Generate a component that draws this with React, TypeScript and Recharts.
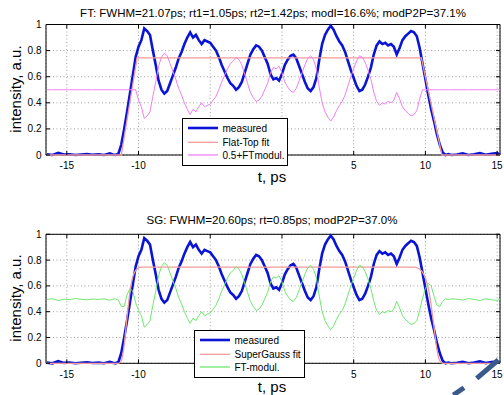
import { LineChart, Line, XAxis, YAxis, CartesianGrid, ReferenceArea } from "recharts";

// time grid, ps
const TIME = [
  -16.4, -16.0, -15.6, -15.2, -14.8, -14.4, -14.0, -13.6, -13.2, -12.8, -12.4, -12.0,
  -11.8, -11.6, -11.4, -11.2, -11.0, -10.8, -10.6, -10.4, -10.2, -10.0,
  -9.8, -9.6, -9.4, -9.2, -9.0, -8.8, -8.6, -8.4, -8.2, -8.0,
  -7.8, -7.6, -7.4, -7.2, -7.0, -6.8, -6.6, -6.4, -6.2, -6.0,
  -5.8, -5.6, -5.4, -5.2, -5.0, -4.8, -4.6, -4.4, -4.2, -4.0,
  -3.8, -3.6, -3.4, -3.2, -3.0, -2.8, -2.6, -2.4, -2.2, -2.0,
  -1.8, -1.6, -1.4, -1.2, -1.0, -0.8, -0.6, -0.4, -0.2, 0.0,
  0.2, 0.4, 0.6, 0.8, 1.0, 1.2, 1.4, 1.6, 1.8, 2.0,
  2.2, 2.4, 2.6, 2.8, 3.0, 3.2, 3.4, 3.6, 3.8, 4.0,
  4.2, 4.4, 4.6, 4.8, 5.0, 5.2, 5.4, 5.6, 5.8, 6.0,
  6.2, 6.4, 6.6, 6.8, 7.0, 7.2, 7.4, 7.6, 7.8, 8.0,
  8.2, 8.4, 8.6, 8.8, 9.0, 9.2, 9.4, 9.6, 9.8, 10.0,
  10.2, 10.4, 10.6, 10.8, 11.0, 11.2, 11.4, 11.6, 11.8,
  12.2, 12.6, 13.0, 13.4, 13.8, 14.2, 14.6, 15.0, 15.2,
];

const MEASURED = [
  0.005, 0.0, 0.016, 0.003, 0.006, 0.0, 0.004, 0.008, 0.002, 0.005, 0.0, 0.012,
  0.004, 0.0, 0.01, 0.08, 0.2, 0.33, 0.47, 0.61, 0.75, 0.83,
  0.88, 0.97, 0.95, 0.92, 0.8, 0.69, 0.57, 0.5, 0.47, 0.49,
  0.55, 0.61, 0.67, 0.74, 0.79, 0.85, 0.9, 0.94, 0.9, 0.92,
  0.88, 0.85, 0.88, 0.87, 0.86, 0.83, 0.8, 0.75, 0.69, 0.64,
  0.59, 0.55, 0.53, 0.5, 0.52, 0.56, 0.63, 0.7, 0.77, 0.81,
  0.84, 0.83, 0.8, 0.75, 0.7, 0.62, 0.58, 0.59, 0.57, 0.62,
  0.69, 0.73, 0.76, 0.77, 0.74, 0.68, 0.62, 0.56, 0.51, 0.49,
  0.52, 0.59, 0.73, 0.85, 0.92, 0.96, 0.99, 0.96, 0.91, 0.87,
  0.84, 0.79, 0.72, 0.65, 0.59, 0.53, 0.49, 0.5, 0.54, 0.6,
  0.67, 0.77, 0.84, 0.87, 0.85, 0.86, 0.84, 0.85, 0.83, 0.77,
  0.82, 0.88, 0.91, 0.93, 0.95, 0.94, 0.91, 0.82, 0.7, 0.58,
  0.46, 0.35, 0.26, 0.16, 0.08, 0.02, 0.0, 0.006, 0.0,
  0.004, 0.012, 0.0, 0.006, 0.015, 0.002, 0.01, 0.014, 0.004,
];

const FT_MODUL = [
  0.5, 0.5, 0.5, 0.5, 0.5, 0.5, 0.5, 0.5, 0.5, 0.5, 0.5, 0.5,
  0.5, 0.5, 0.5, 0.5, 0.5, 0.5, 0.5, 0.5, 0.5, 0.42,
  0.37, 0.28, 0.3, 0.33, 0.45, 0.56, 0.68, 0.75, 0.78, 0.76,
  0.7, 0.64, 0.58, 0.51, 0.46, 0.4, 0.35, 0.31, 0.35, 0.33,
  0.37, 0.4, 0.37, 0.38, 0.39, 0.42, 0.45, 0.5, 0.56, 0.61,
  0.66, 0.7, 0.72, 0.75, 0.73, 0.69, 0.62, 0.55, 0.48, 0.44,
  0.41, 0.42, 0.45, 0.5, 0.55, 0.63, 0.67, 0.66, 0.68, 0.63,
  0.56, 0.52, 0.49, 0.48, 0.51, 0.57, 0.63, 0.69, 0.74, 0.76,
  0.73, 0.66, 0.52, 0.4, 0.33, 0.29, 0.26, 0.29, 0.34, 0.38,
  0.41, 0.46, 0.53, 0.6, 0.66, 0.72, 0.76, 0.75, 0.71, 0.65,
  0.58, 0.48, 0.41, 0.38, 0.4, 0.39, 0.41, 0.4, 0.42, 0.48,
  0.43, 0.37, 0.34, 0.32, 0.3, 0.31, 0.34, 0.43, 0.5, 0.5,
  0.5, 0.5, 0.5, 0.5, 0.5, 0.5, 0.5, 0.5, 0.5,
  0.5, 0.5, 0.5, 0.5, 0.5, 0.5, 0.5, 0.5, 0.5,
];

const SG_MODUL = [
  0.495, 0.5, 0.487, 0.497, 0.494, 0.502, 0.496, 0.492, 0.498, 0.495, 0.5, 0.489,
  0.496, 0.5, 0.49, 0.44, 0.44, 0.53, 0.58, 0.56, 0.47, 0.41,
  0.37, 0.28, 0.3, 0.33, 0.45, 0.56, 0.68, 0.75, 0.78, 0.76,
  0.7, 0.64, 0.58, 0.51, 0.46, 0.4, 0.35, 0.31, 0.35, 0.33,
  0.37, 0.4, 0.37, 0.38, 0.39, 0.42, 0.45, 0.5, 0.56, 0.61,
  0.66, 0.7, 0.72, 0.75, 0.73, 0.69, 0.62, 0.55, 0.48, 0.44,
  0.41, 0.42, 0.45, 0.5, 0.55, 0.63, 0.67, 0.66, 0.68, 0.63,
  0.56, 0.52, 0.49, 0.48, 0.51, 0.57, 0.63, 0.69, 0.74, 0.76,
  0.73, 0.66, 0.52, 0.4, 0.33, 0.29, 0.26, 0.29, 0.34, 0.38,
  0.41, 0.46, 0.53, 0.6, 0.66, 0.72, 0.76, 0.75, 0.71, 0.65,
  0.58, 0.48, 0.41, 0.38, 0.4, 0.39, 0.41, 0.4, 0.42, 0.48,
  0.43, 0.37, 0.34, 0.32, 0.3, 0.31, 0.33, 0.41, 0.505, 0.58,
  0.62, 0.6, 0.52, 0.45, 0.44, 0.48, 0.5, 0.494, 0.5,
  0.497, 0.49, 0.502, 0.495, 0.486, 0.5, 0.492, 0.488, 0.497,
];

// flat-top fit (linear edges)
const FT_FIT_T = [-16.4, -11.2, -10.1, 9.72, 11.15, 15.2];
const FT_FIT_V = [0, 0, 0.745, 0.745, 0, 0];

// super-gauss fit
const SG_FIT_T = [-16.4, -11.4, -11.2, -11.0, -10.8, -10.6, -10.4, -10.2, -10.0, -9.8, 9.2, 9.4, 9.6, 9.8, 10.0, 10.2, 10.4, 10.6, 10.8, 11.0, 11.2, 15.2];
const SG_FIT_V = [0, 0, 0.02, 0.14, 0.36, 0.55, 0.67, 0.72, 0.74, 0.745, 0.745, 0.742, 0.73, 0.705, 0.66, 0.58, 0.45, 0.28, 0.11, 0.02, 0, 0];

const X_TICKS = [-15, -10, -5, 0, 5, 10, 15];
// these two labels sit behind the legend box in both panels
const X_TICKS_COVERED = [-5, 0];
const Y_TICKS = [0, 0.2, 0.4, 0.6, 0.8, 1];
const X_DOMAIN: [number, number] = [-16.45, 15.2];

const rows = TIME.map((t, i) => ({ t, meas: MEASURED[i], ftMod: FT_MODUL[i], sgMod: SG_MODUL[i] }));
const ftFit = FT_FIT_T.map((t, i) => ({ t, v: FT_FIT_V[i] }));
const sgFit = SG_FIT_T.map((t, i) => ({ t, v: SG_FIT_V[i] }));

const FONT = '"Liberation Sans", Arial, Helvetica, sans-serif';
const W = 504;
const PANEL_H = 195;
const PLOT_LEFT = 46;
const PLOT_RIGHT = 500;

const BLUE = "#0a14d6";
const FIT_RED = "#f29a9a";
const PINK = "#f27ff2";
const GREEN = "#6fe86f";

interface PanelProps {
  top: number;
  marginTop: number;
  marginBottom: number;
  fit: { t: number; v: number }[];
  fitType: "linear" | "monotone";
  modKey: string;
  modColor: string;
}

function Panel({ top, marginTop, marginBottom, fit, fitType, modKey, modColor }: PanelProps) {
  const plotTop = marginTop;
  const plotBottom = PANEL_H - marginBottom - 25;

  // matlab style: ticks point inwards on all four sides
  const xTick = (p: any) => (
    <g>
      <line x1={p.x} x2={p.x} y1={plotBottom} y2={plotBottom - 4} stroke="#000" />
      <line x1={p.x} x2={p.x} y1={plotTop} y2={plotTop + 4} stroke="#000" />
      {!X_TICKS_COVERED.includes(p.payload.value) && (
        <text x={p.x} y={plotBottom + 14.3} textAnchor="middle" fontSize={10} fill="#000" fontFamily={FONT}>
          {p.payload.value}
        </text>
      )}
    </g>
  );
  const yTick = (p: any) => (
    <g>
      <line x1={PLOT_LEFT} x2={PLOT_LEFT + 4} y1={p.y} y2={p.y} stroke="#000" />
      <line x1={PLOT_RIGHT} x2={PLOT_RIGHT - 4} y1={p.y} y2={p.y} stroke="#000" />
      <text x={PLOT_LEFT - 4.5} y={p.y + 3.5} textAnchor="end" fontSize={10} fill="#000" fontFamily={FONT}>
        {p.payload.value}
      </text>
    </g>
  );

  return (
    <div style={{ position: "absolute", left: 0, top, width: W, height: PANEL_H }}>
      <LineChart
        width={W}
        height={PANEL_H}
        data={rows}
        margin={{ top: marginTop, right: W - PLOT_RIGHT, bottom: marginBottom, left: 6 }}
      >
        <CartesianGrid stroke="#a0a0a0" strokeDasharray="1 2.5" />
        <XAxis
          type="number"
          dataKey="t"
          domain={X_DOMAIN}
          ticks={X_TICKS}
          height={25}
          axisLine={false}
          tickLine={false}
          tickSize={0}
          tickMargin={0}
          tick={xTick}
          interval={0}
        />
        <YAxis
          type="number"
          domain={[0, 1]}
          ticks={Y_TICKS}
          width={40}
          axisLine={false}
          tickLine={false}
          tickSize={0}
          tickMargin={0}
          tick={yTick}
          interval={0}
        />
        <ReferenceArea x1={X_DOMAIN[0]} x2={X_DOMAIN[1]} y1={0} y2={1} fill="none" stroke="#000" strokeWidth={1} />
        <Line dataKey="meas" type="linear" stroke={BLUE} strokeWidth={2.6} dot={false} isAnimationActive={false} />
        <Line data={fit} dataKey="v" type={fitType} stroke={FIT_RED} strokeWidth={1.3} dot={false} isAnimationActive={false} />
        <Line dataKey={modKey} type="linear" stroke={modColor} strokeWidth={1} dot={false} isAnimationActive={false} />
      </LineChart>
    </div>
  );
}

interface LegendItem {
  label: string;
  color: string;
  width: number;
}

function LegendBox({ left, top, width, items }: { left: number; top: number; width: number; items: LegendItem[] }) {
  const rowsY = [10, 24.3, 37];
  return (
    <div
      style={{
        position: "absolute",
        left,
        top,
        width,
        height: 48,
        boxSizing: "border-box",
        border: "1px solid #000",
        background: "#fff",
      }}
    >
      <svg width={width - 2} height={46} style={{ display: "block" }}>
        {items.map((it, i) => (
          <g key={it.label}>
            <line x1={5} x2={35} y1={rowsY[i] - 1} y2={rowsY[i] - 1} stroke={it.color} strokeWidth={it.width} />
            <text x={39.5} y={rowsY[i] + 2.5} fontSize={10} fontFamily={FONT} fill="#000">
              {it.label}
            </text>
          </g>
        ))}
      </svg>
    </div>
  );
}

export default function App() {
  return (
    <div
      style={{
        position: "absolute",
        left: 0,
        top: 0,
        width: W,
        height: 395,
        background: "#fff",
        overflow: "hidden",
        fontFamily: FONT,
      }}
    >
      <Panel top={0} marginTop={24.5} marginBottom={15} fit={ftFit} fitType="linear" modKey="ftMod" modColor={PINK} />
      <Panel top={200} marginTop={34.3} marginBottom={6.7} fit={sgFit} fitType="monotone" modKey="sgMod" modColor={GREEN} />

      <svg width={W} height={395} style={{ position: "absolute", left: 0, top: 0, pointerEvents: "none" }}>
        <g fontFamily={FONT} fill="#000">
          <text x={273} y={16.5} fontSize={11.5} textAnchor="middle">
            FT: FWHM=21.07ps; rt1=1.05ps; rt2=1.42ps; modI=16.6%; modP2P=37.1%
          </text>
          <text x={272} y={224} fontSize={11.5} textAnchor="middle">
            SG: FWHM=20.60ps; rt=0.85ps; modP2P=37.0%
          </text>
          <text x={272} y={181.5} fontSize={15} textAnchor="middle">t, ps</text>
          <text x={272} y={392} fontSize={15} textAnchor="middle">t, ps</text>
          <text x={20.5} y={89} fontSize={15} textAnchor="middle" transform="rotate(-90 20.5 89)">
            intensity, a.u.
          </text>
          <text x={20.5} y={298} fontSize={15} textAnchor="middle" transform="rotate(-90 20.5 298)">
            intensity, a.u.
          </text>
        </g>
        {/* stray arrow strokes from the source page */}
        <line x1={476.7} y1={378.3} x2={498.3} y2={360} stroke="#3a5a8c" strokeWidth={5} />
        <line x1={453.3} y1={395} x2={464} y2={387.7} stroke="#3a5a8c" strokeWidth={5} />
      </svg>

      <LegendBox
        left={182}
        top={118}
        width={106}
        items={[
          { label: "measured", color: BLUE, width: 2.6 },
          { label: "Flat-Top fit", color: FIT_RED, width: 1.3 },
          { label: "0.5+FTmodul.", color: PINK, width: 1.3 },
        ]}
      />
      <LegendBox
        left={194}
        top={330}
        width={111}
        items={[
          { label: "measured", color: BLUE, width: 2.6 },
          { label: "SuperGauss fit", color: FIT_RED, width: 1.3 },
          { label: "FT-modul.", color: GREEN, width: 1.3 },
        ]}
      />
    </div>
  );
}
